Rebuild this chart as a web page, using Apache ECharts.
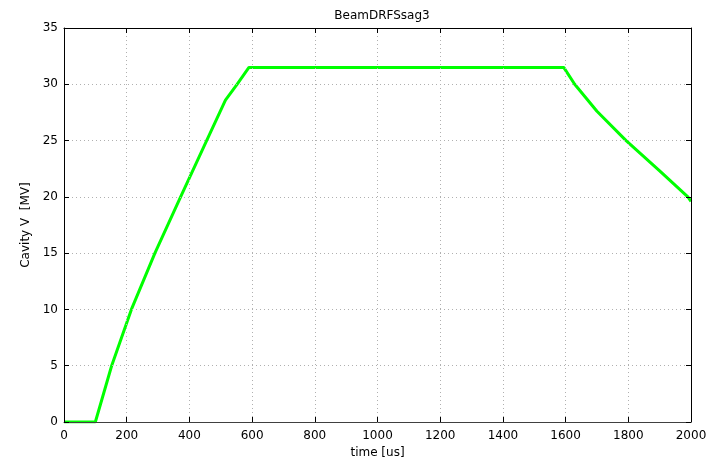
<!DOCTYPE html>
<html>
<head>
<meta charset="utf-8">
<script src="https://cdn.jsdelivr.net/npm/echarts@6/dist/echarts.min.js"></script>
<style>
  html, body { margin: 0; padding: 0; background: #fff; }
  #chart { width: 717px; height: 466px; }
</style>
</head>
<body>
<div id="chart"></div>
<script>
// time axis [us] and cavity voltage [MV]
var timeUs  = [0, 100, 152, 215, 290, 372, 455, 515, 552, 590, 1594, 1629, 1700, 1793, 1900, 1990, 2000];
var cavityV = [0, 0,   5,   10,  15,  20,  25,  28.6, 30, 31.5, 31.5, 30,  27.6, 25,   22.3, 20,   19.6];

var xTicks = [0, 200, 400, 600, 800, 1000, 1200, 1400, 1600, 1800, 2000];
var yTicks = [0, 5, 10, 15, 20, 25, 30, 35];

var pts = [];
for (var i = 0; i < timeUs.length; i++) {
  pts.push([timeUs[i], cavityV[i]]);
}

var fontFam = 'DejaVu Sans';
var chart = echarts.init(document.getElementById('chart'));

var gridLine = { show: true, lineStyle: { color: '#b0b0b0', type: [1, 3], width: 1 } };
var plainNum = function (v) { return String(v); };

chart.setOption({
  animation: false,
  title: {
    text: 'BeamDRFSsag3',
    left: 377, top: 5, textAlign: 'center',
    textStyle: { fontFamily: fontFam, fontSize: 12, fontWeight: 'normal', color: '#000' }
  },
  grid: { left: 64, right: 26, top: 28, bottom: 44 },
  xAxis: [{
    type: 'value', min: 0, max: 2000, interval: 200, position: 'bottom', z: 5,
    name: 'time [us]', nameLocation: 'middle', nameGap: 25,
    nameTextStyle: { fontFamily: fontFam, fontSize: 12, color: '#000' },
    axisLine: { show: true, onZero: false, lineStyle: { color: '#404040', width: 1 } },
    axisTick: { show: true, inside: true, length: 5, lineStyle: { color: '#000' } },
    axisLabel: { fontFamily: fontFam, fontSize: 12, color: '#000', margin: 8, formatter: plainNum },
    splitLine: gridLine
  }, {
    type: 'value', min: 0, max: 2000, interval: 200, position: 'top', z: 5,
    axisLine: { show: true, onZero: false, lineStyle: { color: '#000', width: 1 } },
    axisTick: { show: true, inside: true, length: 5, lineStyle: { color: '#000' } },
    axisLabel: { show: false },
    splitLine: { show: false }
  }],
  yAxis: [{
    type: 'value', min: 0, max: 35, interval: 5, position: 'left', z: 5,
    name: 'Cavity V  [MV]', nameLocation: 'middle', nameGap: 30,
    nameTextStyle: { fontFamily: fontFam, fontSize: 12, color: '#000' },
    axisLine: { show: true, onZero: false, lineStyle: { color: '#000', width: 1 } },
    axisTick: { show: true, inside: true, length: 5, lineStyle: { color: '#000' } },
    axisLabel: { fontFamily: fontFam, fontSize: 12, color: '#000', margin: 6, formatter: plainNum },
    splitLine: gridLine
  }, {
    type: 'value', min: 0, max: 35, interval: 5, position: 'right', z: 5,
    axisLine: { show: true, onZero: false, lineStyle: { color: '#000', width: 1 } },
    axisTick: { show: true, inside: true, length: 5, lineStyle: { color: '#000' } },
    axisLabel: { show: false },
    splitLine: { show: false }
  }],
  series: [{
    type: 'line',
    data: pts,
    showSymbol: false,
    lineStyle: { color: '#00ff00', width: 3 },
    z: 2
  }]
});
</script>
</body>
</html>
